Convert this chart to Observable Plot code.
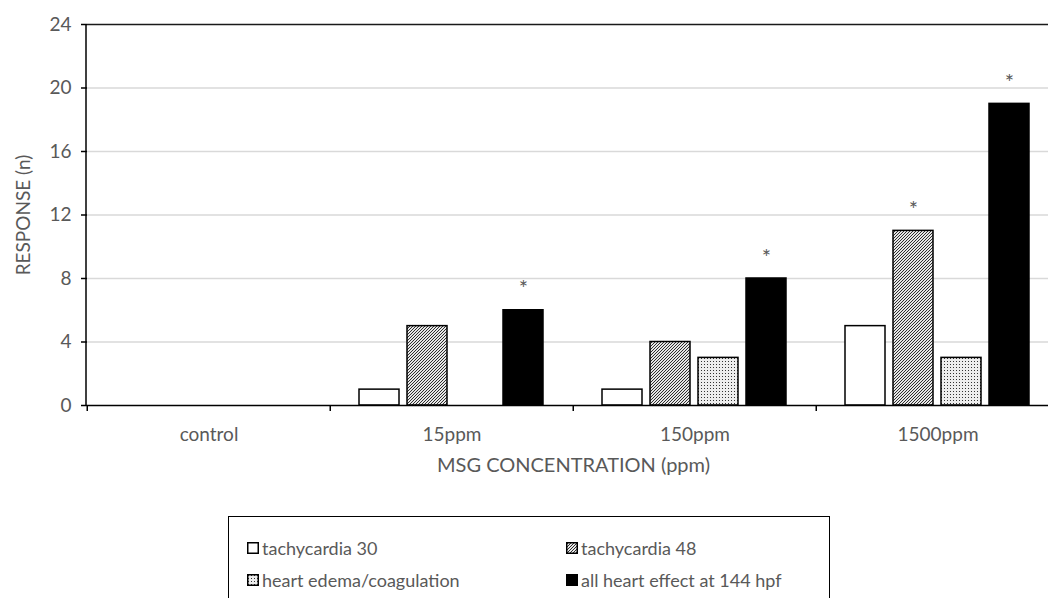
<!DOCTYPE html>
<html><head><meta charset="utf-8">
<script src="https://cdn.jsdelivr.net/npm/d3@7"></script>
<script src="https://cdn.jsdelivr.net/npm/@observablehq/plot@0.6"></script>
<style>
body{margin:0;width:1048px;height:598px;overflow:hidden;background:#fff;font-family:Lato,"Open Sans",sans-serif;}
#wrap{position:relative;width:1048px;height:598px;overflow:hidden;}
#chart{position:absolute;left:0;top:0;width:1076px;}
#chart svg{max-width:none;}
#legend{position:absolute;left:228px;top:516px;width:602px;height:100px;border:1.5px solid #000;box-sizing:border-box;}
.item{position:absolute;font-size:18px;color:#595959;display:flex;align-items:center;white-space:nowrap;transform:translateY(-50%);}
.item svg{margin-right:3px;}
</style></head>
<body>
<svg width="0" height="0" style="position:absolute">
<defs>
<pattern id="hatch" patternUnits="userSpaceOnUse" width="3" height="3">
 <rect width="3" height="3" fill="#e6e6e6"/>
 <path d="M-1,1 l2,-2 M0,3 l3,-3 M2,4 l2,-2" stroke="#1a1a1a" stroke-width="0.9"/>
</pattern>
<pattern id="dots" patternUnits="userSpaceOnUse" width="3" height="3">
 <rect width="3" height="3" fill="#ededed"/>
 <rect x="1" y="1" width="1" height="1" fill="#333"/>
</pattern>
</defs></svg>
<div id="wrap">
<div id="chart"></div>
<div id="legend"></div>
</div>
<script>
const categories = ["control", "15ppm", "150ppm", "1500ppm"];
const series = ["tachycardia 30", "tachycardia 48", "heart edema/coagulation", "all heart effect at 144 hpf"];
const tachycardia30 = [0, 1, 1, 5];
const tachycardia48 = [0, 5, 4, 11];
const heartEdema = [0, 0, 3, 3];
const allHeart = [0, 6, 8, 19];
const yTicks = [0, 4, 8, 12, 16, 20, 24];
const significant = [
  ["15ppm", "all heart effect at 144 hpf"],
  ["150ppm", "all heart effect at 144 hpf"],
  ["1500ppm", "tachycardia 48"],
  ["1500ppm", "all heart effect at 144 hpf"]
];

const fills = {
  "tachycardia 30": "#ffffff",
  "tachycardia 48": "url(#hatch)",
  "heart edema/coagulation": "url(#dots)",
  "all heart effect at 144 hpf": "#000000"
};

const seriesValues = [tachycardia30, tachycardia48, heartEdema, allHeart];
const rows = [];
categories.forEach((c, i) => series.forEach((s, j) => rows.push({cat: c, series: s, value: seriesValues[j][i]})));
const sigRows = significant.map(([c, s]) => rows.find(d => d.cat === c && d.series === s));

const chart = Plot.plot({
  width: 1076, height: 480,
  marginLeft: 86, marginRight: 16, marginTop: 24, marginBottom: 75,
  style: {fontFamily: "Lato, sans-serif", fontSize: "19px", color: "#595959", background: "transparent", overflow: "visible", maxWidth: "none"},
  fx: {domain: categories, paddingInner: 0, paddingOuter: 0, label: null, axis: null},
  x: {domain: series, paddingInner: 0.163, paddingOuter: 0.571, axis: null},
  y: {domain: [0, 24], axis: null},
  color: {type: "identity"},
  marks: [
    Plot.gridY(yTicks.filter(t => t > 0 && t < 24), {stroke: "#d9d9d9", strokeOpacity: 1, strokeWidth: 1.5}),
    Plot.ruleY([24], {stroke: "#1a1a1a", strokeWidth: 1.5}),
    Plot.barY(rows, {fx: "cat", x: "series", y: "value", fill: d => fills[d.series],
      stroke: "#000", strokeWidth: 1.5, strokeOpacity: d => d.value > 0 ? 1 : 0}),
    Plot.ruleY([0], {stroke: "#000", strokeWidth: 1.5}),
    Plot.text(sigRows, {fx: "cat", x: "series", y: "value", text: () => "*", dy: -21, fill: "#595959", fontSize: 22}),
    Plot.axisY(yTicks, {tickSize: 6, tickPadding: 10, stroke: "#000", strokeWidth: 1.5, fill: "#595959",
      label: "RESPONSE (n)", labelAnchor: "center", labelArrow: "none", labelOffset: 71}),
    Plot.axisFx({anchor: "bottom", tickSize: 0, tickPadding: 22, fill: "#595959", label: null}),
    Plot.axisFx({anchor: "bottom", tickSize: 6, tickFormat: () => "", dx: -121.75, stroke: "#000", strokeWidth: 1.5,
      fontSize: 20, fill: "#595959",
      label: "MSG CONCENTRATION (ppm)", labelAnchor: "center", labelArrow: "none", labelOffset: 66})
  ]
});
document.getElementById("chart").appendChild(chart);

// y axis line
const ys = chart.scale("y");
d3.select(chart).append("line")
  .attr("x1", 86).attr("x2", 86)
  .attr("y1", ys.apply(24)).attr("y2", ys.apply(0))
  .attr("stroke", "#000").attr("stroke-width", 1.5);

// legend
const legendPos = [[18, 31], [337, 31], [18, 63], [337, 63]];
const legend = d3.select("#legend");
series.forEach((s, i) => {
  const it = legend.append("div").attr("class", "item")
    .style("left", legendPos[i][0] + "px").style("top", legendPos[i][1] + "px");
  const sv = it.append("svg").attr("width", 12).attr("height", 12);
  sv.append("rect").attr("x", 0.75).attr("y", 0.75).attr("width", 10.5).attr("height", 10.5)
    .attr("fill", fills[s]).attr("stroke", "#000").attr("stroke-width", 1.5);
  it.append("span").text(s);
});
</script>
</body></html>
